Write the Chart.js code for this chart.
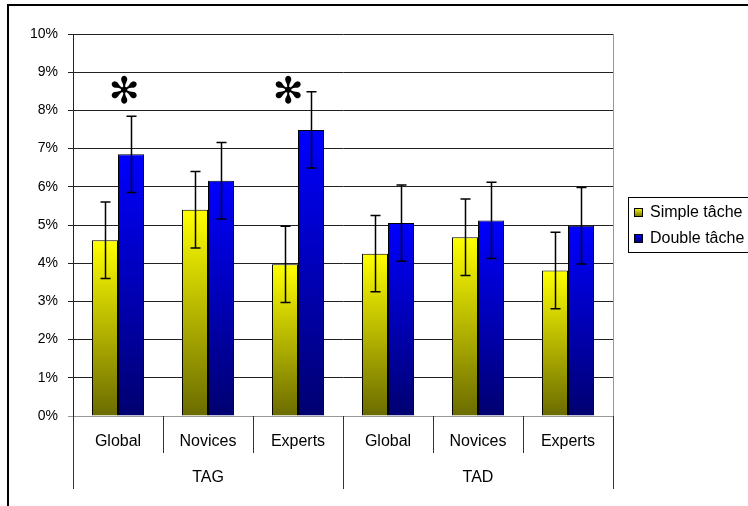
<!DOCTYPE html>
<html>
<head>
<meta charset="utf-8">
<script src="https://cdn.jsdelivr.net/npm/chart.js@4"></script>
<style>
  body { margin: 0; background: #fff; }
  #wrap { position: relative; width: 748px; height: 506px; }
</style>
</head>
<body>
<div id="wrap"><canvas id="chart"></canvas></div>
<script>
// Donnees du graphique
const categories = ['Global', 'Novices', 'Experts', 'Global', 'Novices', 'Experts'];
const groups = ['TAG', 'TAD'];
const simpleTache = [4.6, 5.4, 3.97, 4.25, 4.68, 3.81];
const doubleTache = [6.85, 6.16, 7.49, 5.05, 5.12, 4.98];
const simpleErr = [1.0, 1.0, 1.0, 1.0, 1.0, 1.0];
const doubleErr = [1.0, 1.0, 1.0, 1.0, 1.0, 1.0];
const seriesNames = ['Simple tâche', 'Double tâche'];
const significant = [0, 2];   // categories marquees d'un asterisque
const yMax = 10;
const yStep = 1;

const FONT = "'Liberation Sans', Arial, sans-serif";

// degrade vertical par barre
function barGradient(top, bottom) {
    return function(context) {
        const chart = context.chart;
        const y = chart.scales.y;
        if (!y || context.raw === undefined) return top;
        const y0 = y.getPixelForValue(context.raw);
        const y1 = y.getPixelForValue(0);
        if (!isFinite(y0) || !isFinite(y1) || y0 === y1) return top;
        const g = chart.ctx.createLinearGradient(0, y0, 0, y1);
        g.addColorStop(0, top);
        g.addColorStop(1, bottom);
        return g;
    };
}

const colors = [
    { top: '#ffff00', bottom: '#6b6b00' },
    { top: '#0000ff', bottom: '#000070' }
];

// barres d'erreur, asterisques, separateurs, legende, cadre
const extras = {
    id: 'extras',
    afterDatasetsDraw(chart) {
        const ctx = chart.ctx;
        const y = chart.scales.y;
        const errs = [simpleErr, doubleErr];
        const vals = [simpleTache, doubleTache];
        ctx.save();
        ctx.strokeStyle = '#000';
        ctx.lineWidth = 1.5;
        chart.data.datasets.forEach((ds, i) => {
            chart.getDatasetMeta(i).data.forEach((bar, j) => {
                const x = Math.round(bar.x) + 0.5;
                const yt = y.getPixelForValue(vals[i][j] + errs[i][j]);
                const yb = y.getPixelForValue(vals[i][j] - errs[i][j]);
                ctx.beginPath();
                ctx.moveTo(x, yt); ctx.lineTo(x, yb);
                ctx.moveTo(x - 5, yt); ctx.lineTo(x + 5, yt);
                ctx.moveTo(x - 5, yb); ctx.lineTo(x + 5, yb);
                ctx.stroke();
            });
        });
        ctx.restore();
    },
    afterDraw(chart) {
        const ctx = chart.ctx;
        const a = chart.chartArea;
        const x = chart.scales.x;
        const y = chart.scales.y;
        const catW = (a.right - a.left) / categories.length;
        ctx.save();

        // bord droit de la zone de traçage
        ctx.strokeStyle = '#999';
        ctx.lineWidth = 1;
        ctx.beginPath();
        ctx.moveTo(Math.round(a.right) + 0.5, a.top);
        ctx.lineTo(Math.round(a.right) + 0.5, a.bottom);
        ctx.stroke();

        // separateurs de categories sous l'axe
        ctx.strokeStyle = '#333';
        for (let i = 0; i <= categories.length; i++) {
            const px = Math.round(a.left + i * catW) + 0.5;
            const long = i % 3 === 0;
            ctx.beginPath();
            ctx.moveTo(px, a.bottom);
            ctx.lineTo(px, a.bottom + (long ? 73 : 37));
            ctx.stroke();
        }

        // asterisques
        ctx.fillStyle = '#000';
        ctx.font = 'bold 37px "DejaVu Sans"';
        ctx.textAlign = 'center';
        ctx.textBaseline = 'middle';
        const offs = [6, -10];
        significant.forEach((idx, k) => {
            ctx.fillText('\u273B', x.getPixelForValue(idx) + offs[k], y.getPixelForValue(8.45));
        });

        // legende
        const lx = 628, ly = 197;
        ctx.strokeStyle = '#000';
        ctx.lineWidth = 1;
        ctx.strokeRect(lx + 0.5, ly + 0.5, 200, 55);
        ctx.font = '16px ' + FONT;
        ctx.textAlign = 'left';
        seriesNames.forEach((name, i) => {
            const cy = ly + 15 + i * 26;
            const g = ctx.createLinearGradient(0, cy - 4, 0, cy + 5);
            g.addColorStop(0, colors[i].top);
            g.addColorStop(1, colors[i].bottom);
            ctx.fillStyle = g;
            ctx.fillRect(lx + 6, cy - 4, 9, 9);
            ctx.strokeRect(lx + 6.5, cy - 3.5, 8, 8);
            ctx.fillStyle = '#000';
            ctx.fillText(name, lx + 22, cy + 1);
        });

        // cadre exterieur
        ctx.lineWidth = 2;
        ctx.strokeRect(8, 5, 900, 700);
        ctx.restore();
    }
};

const myChart = new Chart(document.getElementById('chart'), {
    type: 'bar',
    data: {
        labels: categories,
        datasets: [
            {
                label: seriesNames[0],
                data: simpleTache,
                backgroundColor: barGradient(colors[0].top, colors[0].bottom),
                borderColor: '#000',
                borderWidth: 1
            },
            {
                label: seriesNames[1],
                data: doubleTache,
                backgroundColor: barGradient(colors[1].top, colors[1].bottom),
                borderColor: '#000',
                borderWidth: 1
            }
        ]
    },
    options: {
        responsive: true,
        maintainAspectRatio: false,
        animation: false,
        layout: { padding: { left: 0, top: 34, right: 135, bottom: 0 } },
        datasets: { bar: { categoryPercentage: 0.578, barPercentage: 1.0 } },
        plugins: { legend: { display: false }, tooltip: { enabled: false } },
        scales: {
            y: {
                min: 0,
                max: yMax,
                ticks: {
                    stepSize: yStep,
                    padding: 10,
                    color: '#000',
                    font: { family: FONT, size: 14 },
                    callback: v => v + '%'
                },
                grid: {
                    color: c => c.index === 0 ? '#999' : '#222',
                    tickLength: 5,
                    lineWidth: 1
                },
                border: { color: '#222' },
                afterFit: s => { s.width = 73; }
            },
            x: {
                weight: 0,
                grid: { display: false, drawTicks: false },
                border: { color: '#999' },
                ticks: {
                    padding: 16,
                    color: '#000',
                    font: { family: FONT, size: 16 },
                    maxRotation: 0,
                    autoSkip: false
                },
                afterFit: s => { s.height = 37; }
            },
            x2: {
                type: 'category',
                position: 'bottom',
                weight: 1,
                labels: groups,
                offset: true,
                grid: { display: false, drawTicks: false },
                border: { display: false },
                ticks: {
                    padding: 15,
                    color: '#000',
                    font: { family: FONT, size: 16 },
                    maxRotation: 0
                },
                afterFit: s => { s.height = 53; }
            }
        }
    },
    plugins: [extras]
});
</script>
</body>
</html>
